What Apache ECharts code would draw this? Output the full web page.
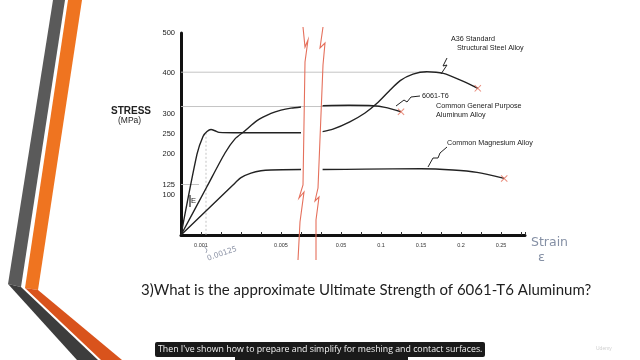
<!DOCTYPE html>
<html>
<head>
<meta charset="utf-8">
<script src="https://cdn.jsdelivr.net/npm/echarts@6/dist/echarts.min.js"></script>
<style>
html,body{margin:0;padding:0;background:#fff;}
#c{width:640px;height:360px;}
</style>
</head>
<body>
<div id="c"></div>
<script>
// ---- data (strain, stress MPa) ----
// left segment of the broken strain axis: 0 .. 0.006
const steelLeft = [[0,0],[0.0008,200],[0.0011,244],[0.0013,256],[0.0015,261],[0.0017,258],[0.0019,254],[0.003,253],[0.006,253]];
const aluLeft   = [[0,0],[0.0013,120],[0.0022,203],[0.0027,238],[0.0032,258],[0.0038,283],[0.0045,301],[0.005,309],[0.0055,314],[0.006,317]];
const magLeft   = [[0,0],[0.0013,62],[0.0026,124],[0.003,142],[0.0035,153],[0.004,159],[0.0045,161],[0.006,162]];
// right segment of the broken strain axis: 0.025 .. 0.28
const steelRight = [[0.027,256],[0.04,262],[0.061,280],[0.08,302],[0.095,326],[0.11,356],[0.124,382],[0.14,398],[0.157,404],[0.178,400],[0.203,380],[0.221,363]];
const aluRight   = [[0.027,320],[0.06,321],[0.09,320],[0.105,316],[0.125,305]];
const magRight   = [[0.027,162],[0.08,163],[0.15,164],[0.19,161],[0.22,155],[0.254,140]];
// reference (construction) lines
const ref400Left = [[0,403],[0.006,403]];
const ref400Right = [[0,403],[0.157,403]];
const ref300Left = [[0,318],[0.006,318]];
const ref300Right = [[0,318],[0.095,318]];
const ref125 = [[0,125],[0.0009,125]];
const refYield = [[0.00125,253],[0.00125,0]];
// tick labels
const yTickLabels = [100,125,200,250,300,400,500];
const xLabelsLeft = {1:'0.001',5:'0.005'};
const xLabelsRight = {2:'0.05',4:'0.1',6:'0.15',8:'0.2',10:'0.25'};
const seriesNames = ['A36 Standard Structural Steel Alloy','6061-T6 Common General Purpose Aluminum Alloy','Common Magnesium Alloy'];

const ink = '#222';
const grey = '#bdbdbd';
const red = '#e5705c';
const FF = '"Liberation Sans", Arial, sans-serif';

function curve(name, data, gi){
  return {type:'line', name, xAxisIndex:gi, yAxisIndex:gi, data, smooth:0.25, showSymbol:false, silent:true,
    lineStyle:{color:ink, width:1.4}, z:5};
}
function refLine(data, gi, dashed){
  return {type:'line', xAxisIndex:gi, yAxisIndex:gi, data, showSymbol:false, silent:true,
    lineStyle:{color:grey, width:0.9, type: dashed ? [2,2] : 'solid'}, z:2};
}
const lastOf = a => a[a.length-1];

const chart = echarts.init(document.getElementById('c'), null, {renderer:'canvas'});

const xAxisCommon = {
  type:'value',
  axisLine:{show:true, lineStyle:{color:'#111', width:3}},
  axisTick:{show:true, inside:true, length:3, lineStyle:{color:'#333', width:1}},
  splitLine:{show:false},
  axisLabel:{fontSize:5.5, color:'#333', fontFamily:FF, margin:7}
};
const yAxisCommon = {
  type:'value', min:0, max:500, interval:25,
  axisTick:{show:false}, splitLine:{show:false}
};

function poly(points, color, w){
  return {type:'polyline', shape:{points}, style:{stroke:color, lineWidth:w, fill:null}, z:10, silent:true};
}
function txt(x,y,text,size,opts){
  return {type:'text', x, y, silent:true, z:10, style:Object.assign({text, fontSize:size, fontFamily:FF, fill:'#222'}, opts||{})};
}

const option = {
  backgroundColor:'#ffffff',
  animation:false,
  grid:[
    {left:181, top:33, width:120, height:202},
    {left:301, top:33, width:224, height:202}
  ],
  xAxis:[
    Object.assign({}, xAxisCommon, {gridIndex:0, min:0, max:0.006, interval:0.001,
      axisLabel:Object.assign({}, xAxisCommon.axisLabel, {formatter:v => xLabelsLeft[Math.round(v/0.001)] || ''})}),
    Object.assign({}, xAxisCommon, {gridIndex:1, min:0, max:0.28, interval:0.025,
      axisLabel:Object.assign({}, xAxisCommon.axisLabel, {formatter:v => xLabelsRight[Math.round(v/0.025)] || ''})})
  ],
  yAxis:[
    Object.assign({}, yAxisCommon, {gridIndex:0,
      axisLine:{show:true, lineStyle:{color:'#111', width:3}},
      axisLabel:{fontSize:7.5, color:'#222', fontFamily:FF, margin:6,
        formatter:v => yTickLabels.indexOf(v) >= 0 ? String(v) : ''}}),
    Object.assign({}, yAxisCommon, {gridIndex:1, show:false})
  ],
  series:[
    refLine(ref400Left,0), refLine(ref400Right,1),
    refLine(ref300Left,0), refLine(ref300Right,1),
    refLine(ref125,0), refLine(refYield,0,true),
    curve(seriesNames[0], steelLeft, 0), curve(seriesNames[0], steelRight, 1),
    curve(seriesNames[1], aluLeft, 0), curve(seriesNames[1], aluRight, 1),
    curve(seriesNames[2], magLeft, 0), curve(seriesNames[2], magRight, 1),
    {type:'scatter', xAxisIndex:1, yAxisIndex:1, silent:true, z:8,
      data:[lastOf(steelRight), lastOf(aluRight), lastOf(magRight)],
      symbol:'path://M0,1L1,0L5,4L9,0L10,1L6,5L10,9L9,10L5,6L1,10L0,9L4,5Z',
      symbolSize:7, itemStyle:{color:red}}
  ],
  graphic:[
    // left slide decoration
    {type:'polygon', shape:{points:[[53,0],[65,0],[21,287],[8,284]]}, style:{fill:'#5a5a5a'}, silent:true},
    {type:'polygon', shape:{points:[[68,0],[82,0],[38,290],[25,288]]}, style:{fill:'#ef7420'}, silent:true},
    {type:'polygon', shape:{points:[[8,284],[21,287],[98,360],[77,360]]}, style:{fill:'#3d3d3d'}, silent:true},
    {type:'polygon', shape:{points:[[25,288],[38,290],[122,360],[101,360]]}, style:{fill:'#d9531c'}, silent:true},
    // break lines
    poly([[303,27],[305,47],[308,40],[305,62],[303,185],[299,198],[304,192],[300,222],[298,260]], red, 1.1),
    poly([[323,27],[320,48],[325,43],[323,65],[318,188],[315,201],[319,197],[316,220],[316,260]], red, 1.1),
    // leaders
    poly([[447,58],[443,66],[447,65],[441,74]], ink, 1),
    poly([[420,96],[411,97],[407,102],[404,100],[396,106]], ink, 1),
    poly([[447,147],[440,153],[438,158],[433,158],[428,167]], ink, 1),
    // annotation texts
    txt(451,36,'A36 Standard',7.2),
    txt(457,45,'Structural Steel Alloy',7.2),
    txt(422,93,'6061-T6',7.2),
    txt(436,103,'Common General Purpose',7.2),
    txt(436,112,'Aluminum Alloy',7.2),
    txt(447,140,'Common Magnesium Alloy',7.2),
    txt(191,197,'E',7.5),
    poly([[190,195],[190,207]], ink, 1.2),
    // axis title
    txt(111,106,'STRESS',10,{fontWeight:'bold'}),
    txt(118,116,'(MPa)',8.5),
    // handwritten notes
    {type:'text', x:206, y:255, rotation:0.33, silent:true, style:{text:'0.00125', fontSize:7.5, fontFamily:'"DejaVu Sans", sans-serif', fill:'#8c93a6'}},
    poly([[204,246],[207,250],[206,253]], '#8c93a6', 0.8),
    txt(531,236,'Strain',12.5,{fill:'#8590a5', fontFamily:'"DejaVu Sans", sans-serif'}),
    txt(538,251,'\u03B5',13,{fill:'#8590a5', fontFamily:'"DejaVu Sans", sans-serif'}),
    // question
    txt(141,283,'3)What is the approximate Ultimate Strength of 6061-T6 Aluminum?',15,{fontFamily:'Lato, "Open Sans", sans-serif', fill:'#1e1e1e'}),
    // subtitle caption
    {type:'rect', shape:{x:155, y:342, width:330, height:15, r:2}, style:{fill:'#1a1a1a'}, silent:true},
    {type:'rect', shape:{x:235, y:357, width:173, height:3}, style:{fill:'#1a1a1a'}, silent:true},
    txt(158,344.5,"Then I've shown how to prepare and simplify for meshing and contact surfaces.",8.8,{fontFamily:'"Open Sans", sans-serif', fill:'#f2f2f2'}),
    txt(596,346,'Udemy',5,{fill:'#cfcfcf'})
  ]
};
chart.setOption(option);
</script>
</body>
</html>
